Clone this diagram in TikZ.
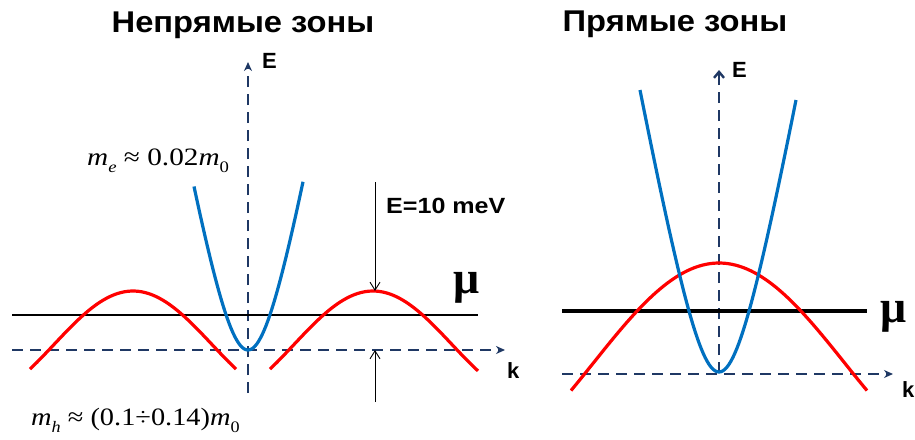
\documentclass[tikz,border=0pt]{standalone}
\usepackage{fontspec}
\setmainfont{Liberation Sans}
\newfontfamily\tnr{Liberation Serif}
\usetikzlibrary{arrows.meta}
\definecolor{axisnavy}{RGB}{31,56,100}
\definecolor{bandblue}{RGB}{0,112,192}
\definecolor{bandred}{RGB}{255,0,0}
\newcommand\lowsub[1]{\raisebox{-.3em}{\fontsize{16}{16}\selectfont #1}}
\begin{document}
\begin{tikzpicture}[x=1pt,y=-1pt,
  axis/.style={axisnavy,line width=2.4pt,dash pattern=on 11pt off 7pt},
  cband/.style={bandblue,line width=3.2pt},
  vband/.style={bandred,line width=3.2pt},
  gaparrow/.style={line width=.9pt,-{Straight Barb[length=8pt,width=10pt]}},
  title/.style={font=\bfseries\fontsize{30}{36}\selectfont,anchor=base,xscale=1.09},
  lbl/.style={font=\bfseries\fontsize{22}{26}\selectfont,anchor=base west,inner sep=0pt},
  mulbl/.style={font=\tnr\bfseries\fontsize{46}{50}\selectfont,anchor=base,inner sep=0pt},
  mass/.style={font=\tnr\fontsize{25}{30}\selectfont,anchor=base west,inner sep=0pt,xscale=1.17}]
\clip (0,0) rectangle (915,439);
% left: indirect bands
\node[title] (titleL) at (243,32) {Непрямые зоны};
\coordinate (Lorig) at (248,350);
\coordinate (Lbot) at (248,393);
\coordinate (Ltop) at (248,62);
\coordinate (Lkin) at (12,350);
\coordinate (Lkout) at (505,350);
\draw[axis,-{Stealth[length=9pt,width=8pt]}] (Lbot) -- (Ltop);
\draw[axis,-{Stealth[length=9pt,width=8pt]}] (Lkin) -- (Lkout);
\node[lbl] (EL) at (262,68) {E};
\node[lbl] (kL) at (507,378) {k};
\coordinate (muLa) at (12,315);
\coordinate (muLb) at (478,315);
\draw[line width=1.3pt] (muLa) -- (muLb);
\node[mulbl] (muL) at (467,293) {μ};
\draw[vband] plot[domain=-103:103,samples=60] ({133+\x},{291+53.4*(1-cos(\x*1.1408))});
\draw[vband] plot[domain=-103:105,samples=60] ({373+\x},{291+53.4*(1-cos(\x*1.1408))});
\draw[cband] plot[domain=-54:55,samples=60] ({248+\x},{350-195*(sqrt(1+(\x/35)^2)-1)});
\node[mass] (meL) at (87,165) {\textit{m}\lowsub{\textit{e}} ≈ 0.02\textit{m}\lowsub{0}};
\node[mass,xscale=.97] (mhL) at (31,425) {\textit{m}\lowsub{\textit{h}} ≈ (0.1÷0.14)\textit{m}\lowsub{0}};
% gap arrows
\coordinate (gapTop) at (375,182);
\coordinate (gapPeak) at (375,291);
\coordinate (gapBot) at (375,402);
\coordinate (gapAxis) at (375,350);
\draw[gaparrow] (gapTop) -- (gapPeak);
\draw[gaparrow] (gapBot) -- (gapAxis);
\node[lbl,xscale=1.14] (gapLbl) at (386,213) {E=10 meV};
% right: direct bands
\node[title] (titleR) at (675,31) {Прямые зоны};
\coordinate (Rorig) at (719,373);
\coordinate (Rtop) at (719,70);
\coordinate (Rkin) at (562,374);
\coordinate (Rkout) at (893,374);
\draw[axis,-{Straight Barb[length=6pt,width=10pt]}] (Rorig) -- (Rtop);
\draw[axis,-{Stealth[length=9pt,width=8pt]}] (Rkin) -- (Rkout);
\node[lbl] (ER) at (732,77) {E};
\node[lbl] (kR) at (902,397) {k};
\coordinate (muRa) at (562,311);
\coordinate (muRb) at (867,311);
\draw[line width=3.2pt] (muRa) -- (muRb);
\node[mulbl] (muR) at (894,322) {μ};
\draw[vband] plot[domain=-148:148,samples=80] ({719+\x},{263+100*(1-cos(\x*0.7162))});
\draw[cband] plot[domain=-79:77,samples=80] ({719+\x},{372-192*(sqrt(1+(\x/35)^2)-1)});
\end{tikzpicture}
\end{document}
